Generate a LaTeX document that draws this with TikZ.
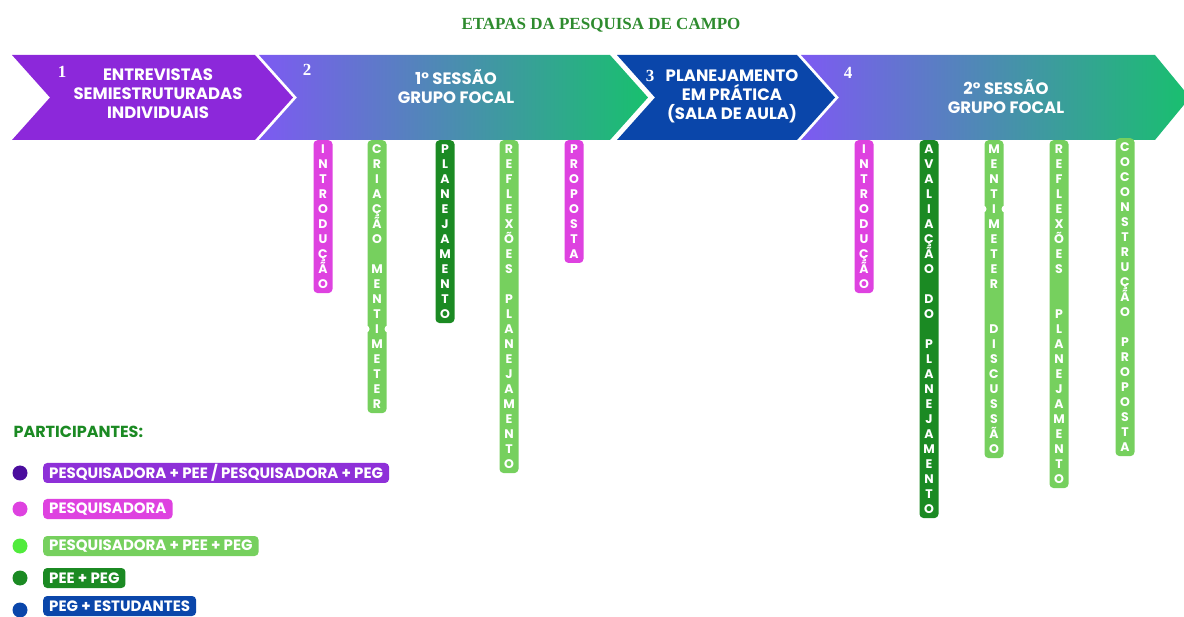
\documentclass[tikz,border=0pt]{standalone}
\usepackage{fontspec}
\setmainfont{Poppins}
\newfontfamily\numfont{Liberation Serif}

\definecolor{titlegreen}{RGB}{46,139,46}
\definecolor{stagepurple}{RGB}{140,40,218}
\definecolor{stageblue}{RGB}{10,70,170}
\definecolor{stageviolet}{RGB}{125,90,242}
\definecolor{stagegreen}{RGB}{24,192,110}
\definecolor{barmagenta}{RGB}{222,66,224}
\definecolor{barlight}{RGB}{118,208,94}
\definecolor{bardark}{RGB}{27,138,35}
\definecolor{keypurple}{RGB}{142,48,216}
\definecolor{dotpurple}{RGB}{75,13,158}
\definecolor{dotgreen}{RGB}{80,235,60}

\begin{document}
\begin{tikzpicture}[x=1pt,y=-1pt,
    stage/.style={text=white, align=center, font=\fontsize{16.5}{19}\selectfont\bfseries},
    num/.style={text=white, font=\numfont\fontsize{17}{17}\selectfont\bfseries},
    bar/.style={rounded corners=4pt, inner xsep=0pt, inner ysep=4.5pt, minimum width=19pt,
        anchor=north, text=white, align=center, font=\fontsize{12.5}{15}\selectfont\bfseries},
    key/.style={rounded corners=4pt, anchor=west, inner xsep=6pt, inner ysep=0pt,
        minimum height=20pt, text=white, font=\fontsize{15}{15}\selectfont\bfseries},
    dot/.style={circle, inner sep=0pt, minimum size=15pt}]
    \useasboundingbox (0,0) rectangle (1184,617);

    % title
    \node[text=titlegreen, font=\numfont\fontsize{17}{17}\selectfont\bfseries] (t) at (601,25) {ETAPAS DA PESQUISA DE CAMPO};

    % stages
    \fill[stagepurple] (12,55) -- (255,55) -- (293,97.5) -- (255,140) -- (12,140) -- (50,97.5) -- cycle;
    \shade[left color=stageviolet, right color=stagegreen] (259,55) -- (610,55) -- (648,97.5) -- (610,140) -- (259,140) -- (297,97.5) -- cycle;
    \fill[stageblue] (617,55) -- (797,55) -- (835,97.5) -- (797,140) -- (617,140) -- (655,97.5) -- cycle;
    \shade[left color=stageviolet, right color=stagegreen] (801,55) -- (1155,55) -- (1190,97.5) -- (1155,140) -- (801,140) -- (839,97.5) -- cycle;

    \node[num] (n1) at (62,72) {1};
    \node[stage] (e1) at (158,93.5) {ENTREVISTAS\\SEMIESTRUTURADAS\\INDIVIDUAIS};
    \node[num] (n2) at (307,70) {2};
    \node[stage] (e2) at (456,87) {1° SESSÃO\\GRUPO FOCAL};
    \node[num] (n3) at (650,76) {3};
    \node[stage] (e3) at (732,96.5) {PLANEJAMENTO\\EM PRÁTICA\\(SALA DE AULA)};
    \node[num] (n4) at (848,73) {4};
    \node[stage] (e4) at (1006,96.5) {2° SESSÃO\\GRUPO FOCAL};

    % first session
    \node[bar, fill=barmagenta] (a1) at (323,140) {I\\N\\T\\R\\O\\D\\U\\Ç\\Ã\\O};
    \node[bar, fill=barlight] (a2) at (377,140) {C\\R\\I\\A\\Ç\\Ã\\O\\[15pt]M\\E\\N\\T\\I\\M\\E\\T\\E\\R};
    \node[bar, fill=bardark] (a3) at (445,140) {P\\L\\A\\N\\E\\J\\A\\M\\E\\N\\T\\O};
    \node[bar, fill=barlight] (a4) at (509,140) {R\\E\\F\\L\\E\\X\\Õ\\E\\S\\[15pt]P\\L\\A\\N\\E\\J\\A\\M\\E\\N\\T\\O};
    \node[bar, fill=barmagenta] (a5) at (574,140) {P\\R\\O\\P\\O\\S\\T\\A};
    \fill[white] (366,329) circle (3.5pt) (388,329) circle (3.5pt);

    % second session
    \node[bar, fill=barmagenta] (b1) at (864,140) {I\\N\\T\\R\\O\\D\\U\\Ç\\Ã\\O};
    \node[bar, fill=bardark] (b2) at (929,140) {A\\V\\A\\L\\I\\A\\Ç\\Ã\\O\\[15pt]D\\O\\[15pt]P\\L\\A\\N\\E\\J\\A\\M\\E\\N\\T\\O};
    \node[bar, fill=barlight] (b3) at (994,140) {M\\E\\N\\T\\I\\M\\E\\T\\E\\R\\[30pt]D\\I\\S\\C\\U\\S\\S\\Ã\\O};
    \node[bar, fill=barlight] (b4) at (1059,140) {R\\E\\F\\L\\E\\X\\Õ\\E\\S\\[30pt]P\\L\\A\\N\\E\\J\\A\\M\\E\\N\\T\\O};
    \node[bar, fill=barlight] (b5) at (1125,138) {C\\O\\C\\O\\N\\S\\T\\R\\U\\Ç\\Ã\\O\\[15pt]P\\R\\O\\P\\O\\S\\T\\A};
    \fill[white] (983,209) circle (3.5pt) (1005,209) circle (3.5pt);

    % participants
    \node[anchor=west, text=bardark, font=\fontsize{16}{16}\selectfont\bfseries] (p) at (10,432) {PARTICIPANTES:};
    \node[dot, fill=dotpurple] (d1) at (20,473) {};
    \node[key, fill=keypurple] (l1) at (43,473) {PESQUISADORA + PEE / PESQUISADORA + PEG};
    \node[dot, fill=barmagenta] (d2) at (20,509) {};
    \node[key, fill=barmagenta] (l2) at (43,509) {PESQUISADORA};
    \node[dot, fill=dotgreen] (d3) at (20,546) {};
    \node[key, fill=barlight] (l3) at (43,546) {PESQUISADORA + PEE + PEG};
    \node[dot, fill=bardark] (d4) at (20,578) {};
    \node[key, fill=bardark] (l4) at (43,578) {PEE + PEG};
    \node[dot, fill=stageblue] (d5) at (20,610) {};
    \node[key, fill=stageblue] (l5) at (43,606) {PEG + ESTUDANTES};
\end{tikzpicture}
\end{document}
